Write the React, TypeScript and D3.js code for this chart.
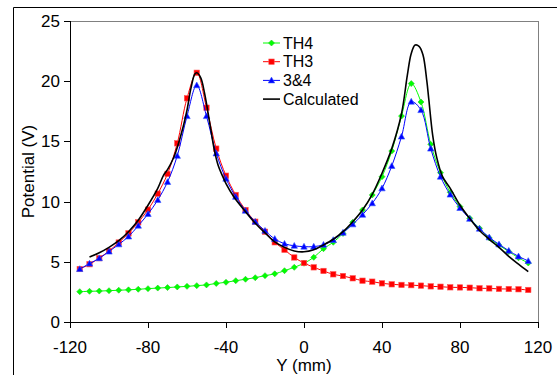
import React from "react";
import * as d3 from "d3";

const positions = [-115,-110,-105,-100,-95,-90,-85,-80,-75,-70,-65,-60,-55,-50,-45,-40,-35,-30,-25,-20,-15,-10,-5,0,5,10,15,20,25,30,35,40,45,50,55,60,65,70,75,80,85,90,95,100,105,110,115];

const th4 = [2.52,2.55,2.57,2.6,2.64,2.67,2.72,2.77,2.82,2.86,2.91,2.96,3.02,3.08,3.2,3.3,3.43,3.55,3.68,3.85,4.0,4.26,4.54,4.88,5.37,6.09,6.62,7.36,8.28,9.3,10.55,12.07,14.2,17.1,19.8,18.27,14.76,12.4,10.77,9.58,8.61,7.78,6.98,6.38,5.85,5.33,4.9];

const th3 = [4.4,4.8,5.3,5.9,6.6,7.36,8.28,9.33,10.66,12.3,14.84,18.58,20.7,17.8,14.4,12.15,10.55,9.3,8.33,7.5,6.62,6.0,5.36,4.9,4.54,4.24,3.96,3.82,3.63,3.43,3.35,3.21,3.13,3.08,3.06,3.02,2.96,2.93,2.88,2.87,2.85,2.8,2.79,2.75,2.74,2.72,2.66];

const s34 = [4.4,4.85,5.3,5.85,6.45,7.1,8.0,8.97,10.13,11.63,13.8,17.1,19.66,17.1,14.0,11.9,10.4,9.24,8.33,7.58,6.9,6.5,6.33,6.26,6.26,6.42,6.81,7.42,8.11,8.91,9.86,11.1,12.96,15.4,18.3,17.6,14.4,12.07,10.58,9.47,8.57,7.75,7.03,6.45,5.92,5.45,5.07];

const calcX = [-110,-105,-100,-95,-90,-85,-80,-75,-72,-70,-67,-65,-62,-60,-58,-56,-55,-53,-51,-48,-46,-44,-42,-40,-36,-30,-25,-20,-15,-10,-5,0,5,10,15,20,25,30,35,40,45,50,53,55,57,59,61,63,64,66,68,71,75,80,85,90,95,100,105,110,115];
const calcY = [5.4,5.75,6.2,6.75,7.5,8.45,9.7,11.1,12.2,12.65,13.6,14.5,16.2,17.6,19.4,20.6,20.7,20.3,19.0,16.2,14.3,13.0,12.2,11.5,10.4,9.16,8.2,7.4,6.65,6.2,5.9,5.83,6.0,6.4,6.87,7.5,8.33,9.3,10.6,12.35,14.4,17.3,20.5,22.3,23.0,22.9,22.2,20.0,18.5,15.5,13.7,12.1,11.1,9.7,8.6,7.6,6.87,6.2,5.45,4.8,4.18];

const xTicks = [-120,-80,-40,0,40,80,120];
const yTicks = [0,5,10,15,20,25];
const legendLabels = ["TH4","TH3","3&4","Calculated"];

const W = 557, H = 375;
const left = 70, right = 538, top = 21, bottom = 322;
const FONT = "Liberation Sans, Arial, sans-serif";

export default function App() {
  const x = d3.scaleLinear().domain([-120, 120]).range([left, right]);
  const y = d3.scaleLinear().domain([0, 25]).range([bottom, top]);
  const line = d3.line<[number, number]>().x(d => x(d[0])).y(d => y(d[1])).curve(d3.curveCatmullRom.alpha(0.5));

  const mk = (vals: number[]) => positions.map((p, i) => [p, vals[i]] as [number, number]);
  const green = "#00ff00", red = "#ff0000", blue = "#0000ff";

  const diamond = (cx: number, cy: number, k: string, c: string) => (
    <path key={k} d={`M${cx},${cy - 3}L${cx + 3},${cy}L${cx},${cy + 3}L${cx - 3},${cy}Z`} fill={c} stroke="#22cc22" strokeWidth={0.6} />
  );
  const square = (cx: number, cy: number, k: string, c: string) => (
    <rect key={k} x={cx - 2.7} y={cy - 2.7} width={5.4} height={5.4} fill={c} stroke="#ff5555" strokeWidth={0.6} />
  );
  const tri = (cx: number, cy: number, k: string, c: string) => (
    <path key={k} d={`M${cx},${cy - 3.3}L${cx + 3.2},${cy + 2.5}L${cx - 3.2},${cy + 2.5}Z`} fill={c} stroke="#3355ff" strokeWidth={0.6} />
  );

  const series = [
    { vals: th4, color: green, marker: diamond },
    { vals: th3, color: red, marker: square },
    { vals: s34, color: blue, marker: tri },
  ];

  const calcPts = calcX.map((p, i) => [p, calcY[i]] as [number, number]);
  const legX = 263, legTextX = 283, legY0 = 43, legDy = 18.7;

  return (
    <svg width={W} height={H} style={{ position: "absolute", left: 0, top: 0, background: "#fff" }} fontFamily={FONT}>
      <rect x={0} y={0} width={W} height={H} fill="#fff" />
      {/* outer frame */}
      <line x1={13.5} y1={7.5} x2={W} y2={7.5} stroke="#000" strokeWidth={1} />
      <line x1={13.5} y1={7.5} x2={13.5} y2={H} stroke="#000" strokeWidth={1} />
      {/* plot border */}
      <line x1={left} y1={top + 0.5} x2={right} y2={top + 0.5} stroke="#808080" strokeWidth={1} />
      <line x1={right + 0.5} y1={top} x2={right + 0.5} y2={bottom} stroke="#808080" strokeWidth={1} />
      {/* axes */}
      <line x1={left + 0.5} y1={top} x2={left + 0.5} y2={bottom + 0.5} stroke="#000" strokeWidth={1} />
      <line x1={left} y1={bottom + 0.5} x2={right + 1} y2={bottom + 0.5} stroke="#000" strokeWidth={1} />
      {yTicks.map(t => (
        <g key={"y" + t}>
          <line x1={left - 6} x2={left} y1={Math.round(y(t)) + 0.5} y2={Math.round(y(t)) + 0.5} stroke="#000" />
          <text x={60} y={y(t) + 6} textAnchor="end" fontSize={17} fill="#000">{t}</text>
        </g>
      ))}
      {xTicks.map(t => (
        <g key={"x" + t}>
          <line x1={Math.round(x(t)) + 0.5} x2={Math.round(x(t)) + 0.5} y1={bottom} y2={bottom + 6} stroke="#000" />
          <text x={x(t)} y={353} textAnchor="middle" fontSize={17} fill="#000">{t}</text>
        </g>
      ))}
      <text transform={`translate(34,${(top + bottom) / 2}) rotate(-90)`} textAnchor="middle" fontSize={17} fill="#000">Potential (V)</text>
      <text x={(left + right) / 2} y={371} textAnchor="middle" fontSize={17} fill="#000">Y (mm)</text>

      {series.map((s, si) => (
        <g key={"s" + si}>
          <path d={line(mk(s.vals)) || ""} fill="none" stroke={s.color} strokeWidth={1} />
          {positions.map((p, i) => s.marker(x(p), y(s.vals[i]), `m${si}-${i}`, s.color))}
        </g>
      ))}
      <path d={line(calcPts) || ""} fill="none" stroke="#000" strokeWidth={1.6} />

      {/* legend */}
      {legendLabels.map((lab, i) => {
        const cy = legY0 + i * legDy;
        const cx = legX + 8.5;
        const s = series[i];
        return (
          <g key={"l" + i}>
            <line x1={legX} x2={legX + 17} y1={cy} y2={cy} stroke={s ? s.color : "#000"} strokeWidth={s ? 1 : 1.6} />
            {s ? s.marker(cx, cy, "lm" + i, s.color) : null}
            <text x={legTextX} y={cy + 5.5} fontSize={16} fill="#000">{lab}</text>
          </g>
        );
      })}
    </svg>
  );
}
